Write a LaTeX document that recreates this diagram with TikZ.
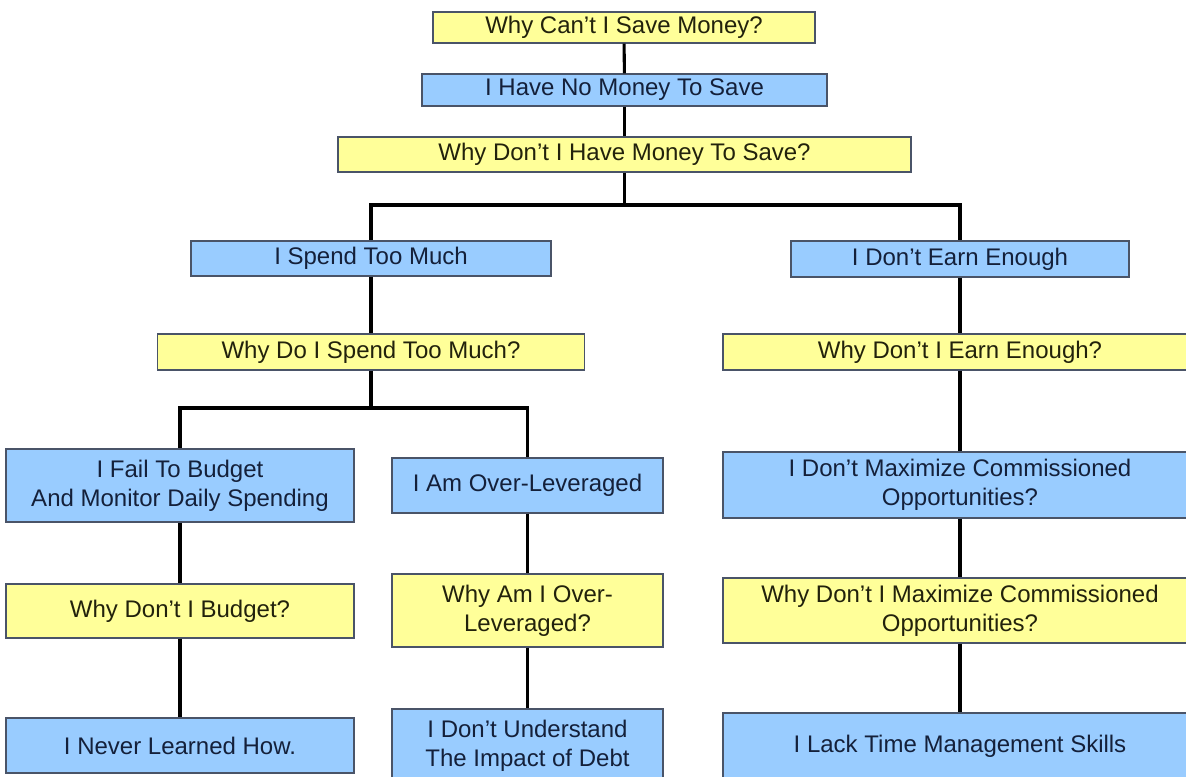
\documentclass[tikz,border=0pt]{standalone}
\usepackage{fontspec}
\setmainfont{Liberation Sans}
\definecolor{boxblue}{HTML}{99CCFF}
\definecolor{boxyellow}{HTML}{FFFF99}
\definecolor{boxedge}{HTML}{4A5468}
\definecolor{bluetext}{HTML}{14203A}
\definecolor{yellowtext}{HTML}{22220C}
\tikzset{
  basebox/.style={rectangle, draw=boxedge, line width=1pt, inner sep=0pt, align=center,
    font=\fontsize{18}{21.75}\selectfont},
  ans/.style={basebox, fill=boxblue, text=bluetext},
  why/.style={basebox, fill=boxyellow, text=yellowtext},
  link/.style={line width=2.3pt, black}
}
\begin{document}
\begin{tikzpicture}[x=0.75pt, y=-0.75pt]
\useasboundingbox (0,0) rectangle (1186,777);
\clip (0,0) rectangle (1186,777);
\fill[white] (0,0) rectangle (1186,777);

% top chain
\node[why, minimum width=382*0.75pt, minimum height=31*0.75pt] (q1) at (624,27.5) {Why Can't I Save Money?};
\node[ans, minimum width=405*0.75pt, minimum height=32*0.75pt] (a1) at (624.5,90) {I Have No Money To Save};
\node[why, minimum width=573*0.75pt, minimum height=35*0.75pt] (q2) at (624.5,154.5) {Why Don't I Have Money To Save?};

% second level
\node[ans, minimum width=360*0.75pt, minimum height=35*0.75pt] (a2) at (371,258.5) {I Spend Too Much};
\node[ans, minimum width=338*0.75pt, minimum height=36*0.75pt] (a3) at (960,259) {I Don't Earn Enough};
\node[why, minimum width=427*0.75pt, minimum height=36*0.75pt] (q3) at (371,352) {Why Do I Spend Too Much?};
\node[why, minimum width=474*0.75pt, minimum height=36*0.75pt] (q4) at (960,352) {Why Don't I Earn Enough?};

% third level
\node[ans, minimum width=348*0.75pt, minimum height=73*0.75pt] (a4) at (180,485.5) {I Fail To Budget\\And Monitor Daily Spending};
\node[ans, minimum width=271*0.75pt, minimum height=55*0.75pt] (a5) at (527.5,485.5) {I Am Over-Leveraged};
\node[ans, minimum width=474*0.75pt, minimum height=66*0.75pt] (a6) at (960,485) {I Don't Maximize Commissioned\\Opportunities?};

\node[why, minimum width=348*0.75pt, minimum height=54*0.75pt] (q5) at (180,611) {Why Don't I Budget?};
\node[why, minimum width=271*0.75pt, minimum height=73*0.75pt] (q6) at (527.5,610.5) {Why Am I Over-\\Leveraged?};
\node[why, minimum width=474*0.75pt, minimum height=65*0.75pt] (q7) at (960,610.5) {Why Don't I Maximize Commissioned\\Opportunities?};

\node[ans, minimum width=348*0.75pt, minimum height=55*0.75pt] (a7) at (180,745.5) {I Never Learned How.};
\node[ans, minimum width=271*0.75pt, minimum height=73*0.75pt] (a8) at (527.5,745.5) {I Don't Understand\\The Impact of Debt};
\node[ans, minimum width=474*0.75pt, minimum height=67*0.75pt] (a9) at (960,746.5) {I Lack Time Management Skills};

% junctions
\coordinate (j1) at (624.5,205);
\coordinate (j2) at (371,408);

% connectors
\draw[link] (q1) -- (a1);
\draw[link] (a1) -- (q2);
\draw[link] (q2) -- (j1);
\draw[link] (j1) -| (a2);
\draw[link] (j1) -| (a3);
\draw[link] (a2) -- (q3);
\draw[link] (a3) -- (q4);
\draw[link] (q3) -- (j2);
\draw[link] (j2) -| (a4);
\draw[link] (j2) -| (a5);
\draw[link] (q4) -- (a6);
\draw[link] (a4) -- (q5);
\draw[link] (a5) -- (q6);
\draw[link] (a6) -- (q7);
\draw[link] (q5) -- (a7);
\draw[link] (q6) -- (a8);
\draw[link] (q7) -- (a9);
\end{tikzpicture}
\end{document}
